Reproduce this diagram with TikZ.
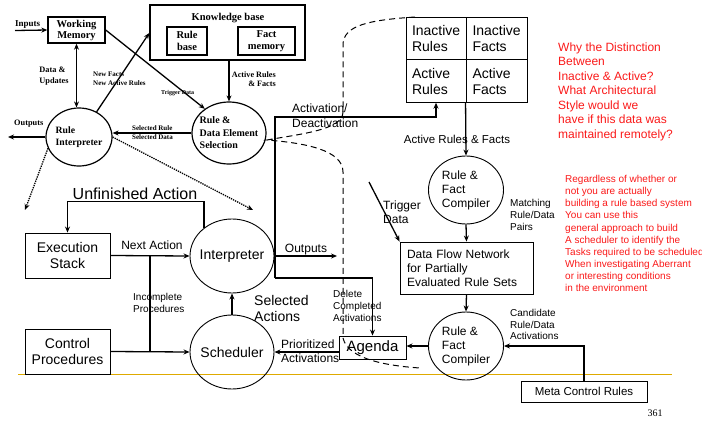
\documentclass[tikz,border=0pt]{standalone}
\usepackage{fontspec}
\setmainfont{Liberation Sans}
\newfontfamily\tnr{Liberation Serif}
\usetikzlibrary{arrows.meta,shapes.geometric}
\definecolor{note}{RGB}{250,25,25}
\definecolor{goldline}{RGB}{222,170,0}
\newcommand{\fsz}[2]{\fontsize{#1}{#2}\selectfont}

\begin{document}
\begin{tikzpicture}[x=1pt, y=-1pt, >={Stealth[length=6pt,width=5pt]},
  box/.style={draw, line width=0.9pt, inner sep=0pt, align=center},
  oval/.style={draw, ellipse, line width=0.9pt, inner sep=0pt, inner xsep=-3pt},
  flow/.style={->, line width=1.3pt},
  lbl/.style={inner sep=0pt, align=left}
]
\useasboundingbox (0,0) rectangle (702,426);

% baseline of the slide
\draw[goldline, line width=1.2pt] (18,374.5) -- (672,374.5);

% ---- old architecture (top left)
\node[box, line width=1.4pt, minimum width=57, minimum height=26, font={\tnr\bfseries\fsz{10.5}{11}}] (wm) at (76.5,30) {Working\\Memory};
\node[box, line width=1.4pt, minimum width=155, minimum height=55] (kb) at (227.5,32.5) {};
\node[lbl, font={\tnr\bfseries\fsz{10.5}{12}}] (kbt) at (228,18) {Knowledge base};
\node[box, line width=1.4pt, minimum width=40, minimum height=28, font={\tnr\bfseries\fsz{10.5}{12}}] (rb) at (187,41) {Rule\\base};
\node[box, line width=1.4pt, minimum width=57, minimum height=28, font={\tnr\bfseries\fsz{10.5}{12}}] (fm) at (266.5,41) {Fact\\memory};
\node[oval, line width=1.2pt, inner xsep=-2pt, minimum width=66, minimum height=58, align=left, font={\tnr\bfseries\fsz{9.7}{12}}] (ri) at (79,137) {Rule\\Interpreter};
\node[oval, line width=1.2pt, inner xsep=-4pt, minimum width=74, minimum height=62, align=left, font={\tnr\bfseries\fsz{10}{12.5}}] (rdes) at (229,133) {Rule \&\\Data Element\\Selection};

\coordinate (inp) at (15,30.5);
\coordinate (outl) at (8,137);
\coordinate (dotl) at (25,210);
\coordinate (dotr) at (253,210);

\draw[flow] (inp) -- (wm.west);
\node[lbl, anchor=west, font={\tnr\bfseries\fsz{9}{10}}] (inpt) at (15,24.5) {Inputs};
\draw[<->, line width=1.3pt] (wm.south) -- (wm.south |- ri.north);
\node[lbl, font={\tnr\bfseries\fsz{8.3}{11}}] (du) at (54,76.5) {Data \&\\Updates};
\draw[flow] (ri.55) -- ([yshift=-0.5pt]kb.west);
\node[lbl, anchor=west, font={\tnr\bfseries\fsz{7}{9.5}}] (nf) at (93,78.5) {New Facts\\New Active Rules};
\draw[flow] (wm.east) -- (rdes.135);
\node[lbl, anchor=west, font={\tnr\bfseries\fsz{6}{7}}] (td) at (161,93) {Trigger Data};
\draw[flow] (rdes.north |- kb.south) -- (rdes.north);
\node[lbl, align=right, anchor=east, font={\tnr\bfseries\fsz{8.2}{9.5}}] (arf) at (276,79) {Active Rules\\\& Facts};
\draw[flow] (rdes.west) -- (rdes.west -| ri.east);
\node[lbl, anchor=west, font={\tnr\bfseries\fsz{7}{9}}] (srd) at (132,132.5) {Selected Rule\\Selected Data};
\draw[flow] (ri.west) -- (outl);
\node[lbl, anchor=west, font={\tnr\bfseries\fsz{8.3}{10}}] (outt) at (14,124) {Outputs};
\draw[->, densely dotted, line width=1.3pt] (ri.200) -- (dotl);
\draw[->, densely dotted, line width=1.3pt] (ri.east) -- (dotr);

% ---- boundary of the new part
\draw[dashed, dash pattern=on 6pt off 4pt, line width=1pt]
  (415,17) .. controls (370,20) and (343,25) .. (343,45) -- (343,112)
  .. controls (343,130) and (300,134) .. (267,140)
  .. controls (305,143) and (343,150) .. (343,172) -- (343,338)
  .. controls (348,360) and (390,366) .. (420,368);

% ---- new architecture
\node[box, minimum width=85, minimum height=45, font=\fsz{14}{16}] (es) at (67.5,255.5) {Execution\\Stack};
\node[box, minimum width=85, minimum height=45, font=\fsz{14}{16}] (cp) at (67.5,351.5) {Control\\Procedures};
\node[oval, minimum width=84, minimum height=74, font=\fsz{14}{16}] (interp) at (232,256) {Interpreter};
\node[oval, minimum width=84, minimum height=74, font=\fsz{14}{16}] (sched) at (232,352) {Scheduler};
\node[box, minimum width=67, minimum height=23, font=\fsz{15}{17}] (agenda) at (372.5,347.5) {Agenda};

\node[box, minimum width=60, minimum height=42.5, text width=48, align=left, font=\fsz{14}{16}] (ir) at (436,38.5) {Inactive\\Rules};
\node[box, minimum width=61, minimum height=42.5, text width=48, align=left, font=\fsz{14}{16}] (if) at (496.5,38.5) {Inactive\\Facts};
\node[box, minimum width=60, minimum height=42.5, text width=48, align=left, font=\fsz{14}{16}] (ar) at (436,81) {Active\\Rules};
\node[box, minimum width=61, minimum height=42.5, text width=48, align=left, font=\fsz{14}{16}] (af) at (496.5,81) {Active\\Facts};

\node[oval, inner xsep=0pt, minimum width=75, minimum height=68, align=left, font=\fsz{12}{14}] (rfc) at (466,190) {Rule \&\\Fact\\Compiler};
\node[box, text width=119, inner xsep=7pt, minimum height=52, align=left, font=\fsz{12}{14}] (dfn) at (466.5,268) {Data Flow Network\\for Partially\\Evaluated Rule Sets};
\node[oval, inner xsep=0pt, minimum width=75, minimum height=68, align=left, font=\fsz{12}{14}] (rfcb) at (466,346) {Rule \&\\Fact\\Compiler};
\node[box, minimum width=126, minimum height=21, font=\fsz{11.5}{13}] (mcr) at (584,391.5) {Meta Control Rules};

\coordinate (bend) at (275,278);
\coordinate (act) at (275,117);
\coordinate (outr) at (337,258);
\coordinate (jt) at (150,255.5);
\coordinate (jb) at (150,351.5);
\coordinate (trig) at (369,182);

\draw[flow] (interp.135) |- ([yshift=31pt]es.north) -- (es.north);
\node[lbl, font=\fsz{16}{18}] (ua) at (135,194) {Unfinished Action};
\draw[flow] (es.east) -- (interp.west);
\node[lbl, font=\fsz{12}{14}] (na) at (152,245) {Next Action};
\draw[line width=1.3pt] (jt) -- (jb);
\node[lbl, anchor=west, font=\fsz{10}{12}] (ip) at (133,303) {Incomplete\\Procedures};
\draw[flow] (cp.east) -- (sched.west);
\draw[flow] (sched.north) -- (interp.south);
\node[lbl, anchor=west, font=\fsz{14}{16}] (sa) at (254,308) {Selected\\Actions};
\draw[flow] (agenda.west |- sched.east) -- (sched.east);
\node[lbl, anchor=west, font=\fsz{12}{14}] (pa) at (281,351) {Prioritized\\Activations};
\draw[flow] (interp.east) -- (interp.east -| outr);
\node[lbl, font=\fsz{12}{14}] (outb) at (306,250) {Outputs};
\draw[flow] (bend) -- (act) -| (ar.south);
\node[lbl, anchor=west, font=\fsz{12}{15}] (ad) at (292,115.5) {Activation/\\Deactivation};
\draw[flow] (bend) -| (agenda.north);
\node[lbl, anchor=west, font=\fsz{10}{12}] (dca) at (333,306) {Delete\\Completed\\Activations};

\draw[flow] (af.south west) -- (rfc.north);
\node[lbl, font=\fsz{11.5}{13}] (arft) at (457,139) {Active Rules \& Facts};
\draw[flow] (rfc.south) -- (dfn.north);
\node[lbl, anchor=west, font=\fsz{10}{12}] (mrd) at (510,215) {Matching\\Rule/Data\\Pairs};
\draw[flow] (trig) -- (dfn.north west);
\node[lbl, anchor=west, font=\fsz{12}{14}] (tdt) at (383,212) {Trigger\\Data};
\draw[flow] (dfn.south) -- (rfcb.north);
\draw[flow] (rfcb.west) -- (rfcb.west -| agenda.east);
\draw[flow] (mcr.north) |- (rfcb.east);
\node[lbl, anchor=west, font=\fsz{10}{11.5}] (crd) at (510,324.5) {Candidate\\Rule/Data\\Activations};

% ---- remarks
\node[lbl, anchor=west, text=note, font=\fsz{12}{14.5}] (q1) at (558,91.5) {Why the Distinction\\Between\\Inactive \& Active?\\What Architectural\\Style would we\\have if this data was\\maintained remotely?};
\node[lbl, anchor=west, text=note, font=\fsz{10}{12.1}] (q2) at (565,233.5) {Regardless of whether or\\not you are actually\\building a rule based system\\You can use this\\general approach to build\\A scheduler to identify the\\Tasks required to be scheduled\\When investigating Aberrant\\or interesting conditions\\in the environment};
\node[lbl, font={\tnr\fsz{10}{12}}] (pg) at (655,413) {361};
\end{tikzpicture}
\end{document}
